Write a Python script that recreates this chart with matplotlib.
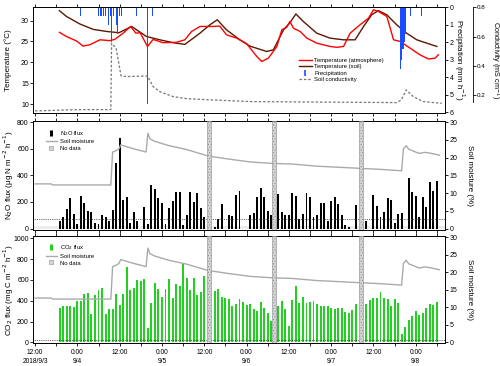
import numpy as np
import matplotlib
matplotlib.use('Agg')
import matplotlib.pyplot as plt
from matplotlib.lines import Line2D

# hours counted from 2018/9/3 0:00
tick_hours = [12, 24, 36, 48, 60, 72, 84, 96, 108, 120]
tick_labels = ['12:00\n2018/9/3', '0:00\n9/4', '12:00', '0:00\n9/5', '12:00',
               '0:00\n9/6', '12:00', '0:00\n9/7', '12:00', '0:00\n9/8']

# air / soil temperature (deg C)
t_air = [18.9, 20.9, 23.8, 25.6, 27.5, 30.4, 33.2, 34.6, 37.0, 39.1, 40.6, 41.8, 43.9, 45.5,
         48.3, 52.1, 54.5, 56.4, 58.8, 62.5, 64.4, 66.3, 69.2, 72.0, 74.9, 76.3, 78.2, 80.6,
         82.0, 83.4, 84.3, 85.3, 87.2, 89.1, 91.9, 93.8, 95.7, 97.6, 99.5, 101.4, 104.2, 106.6,
         108.0, 109.4, 111.8, 113.7, 115.6, 118.4, 121.2, 123.6, 125.5, 126.4]
temp_air = [27.2, 26.2, 25.1, 23.9, 24.2, 25.4, 25.2, 25.5, 27.0, 28.6, 27.0, 27.1, 23.8, 25.5,
            24.7, 24.8, 25.4, 27.4, 28.6, 28.6, 28.7, 26.6, 25.8, 24.5, 21.4, 20.2, 21.0, 23.8,
            27.8, 28.4, 29.8, 28.2, 27.4, 25.8, 24.6, 24.2, 23.8, 23.6, 23.8, 27.0, 29.0, 30.6,
            32.6, 32.2, 31.0, 25.4, 25.0, 23.4, 21.8, 20.8, 21.0, 21.8]
t_soil = [18.9, 20.9, 24.7, 28.5, 32.3, 35.8, 39.4, 43.6, 47.4, 51.2, 54.5, 58.8, 61.6, 63.7,
          66.3, 70.1, 72.9, 77.7, 79.6, 82.5, 84.3, 86.0, 88.1, 91.9, 95.7, 99.5, 102.8, 105.2,
          107.5, 109.4, 111.8, 114.6, 117.4, 120.3, 123.1, 126.0]
temp_soil = [32.4, 31.0, 29.2, 27.9, 27.4, 27.1, 28.6, 26.2, 25.4, 24.7, 24.3, 27.0, 29.0, 30.2,
             27.8, 25.4, 23.9, 22.6, 23.0, 27.8, 29.5, 31.6, 29.8, 27.0, 25.8, 25.4, 25.4, 28.6,
             31.4, 32.4, 31.4, 29.0, 27.0, 25.4, 24.6, 23.8]

# precipitation (mm/h)
t_rain = [25.0, 30.0, 30.7, 31.4, 32.1, 32.8, 33.3, 33.8, 34.2, 35.0, 35.4, 35.9, 36.4, 40.8,
          44.0, 45.4, 115.6, 115.8, 116.0, 116.2, 116.4, 116.6, 116.8, 117.0, 118.6, 121.7]
rain = [0.5, 0.5, 0.5, 0.5, 0.5, 1.0, 0.5, 2.0, 0.5, 1.0, 1.5, 0.5, 0.5, 0.5,
        5.5, 0.5, 3.5, 1.5, 3.0, 2.4, 2.4, 1.5, 2.0, 1.5, 0.5, 0.5]

# soil conductivity (mS/cm)
t_cond = [12.0, 24.4, 33.5, 33.7, 35.0, 36.4, 38.0, 43.9, 45.5, 47.4, 51.2, 55.0, 62.5, 73.0,
          114.6, 115.9, 117.3, 119.3, 122.1, 127.4]
cond = [0.091, 0.10, 0.10, 0.553, 0.52, 0.33, 0.326, 0.33, 0.257, 0.223, 0.189, 0.175, 0.166,
        0.155, 0.148, 0.166, 0.235, 0.189, 0.155, 0.143]

# soil moisture (%)
t_moist = [12.0, 16.5, 17.0, 33.5, 34.0, 35.0, 35.8, 36.3, 37.0, 40.0, 43.5, 44.0, 44.6, 46.0,
           50.0, 55.0, 61.0, 67.0, 73.0, 79.0, 85.0, 92.0, 98.0, 104.0, 110.0, 116.0, 116.5,
           117.3, 118.0, 119.5, 121.0, 122.5, 124.0, 126.7]
moist = [12.6, 12.6, 12.3, 12.3, 21.6, 22.0, 22.5, 23.6, 23.4, 22.5, 21.6, 26.9, 25.3, 24.6,
         23.4, 22.3, 20.5, 19.6, 18.8, 18.4, 18.2, 17.6, 17.3, 17.0, 16.7, 16.3, 22.5,
         23.4, 22.4, 21.8, 21.2, 21.5, 21.3, 20.7]

# hourly fluxes, 9/3 19:00 ... 9/8 6:00
flux_hours = np.arange(19, 127)
nan = np.nan
n2o = [58, 83, 148, 226, 113, 33, 246, 194, 131, 121,
       38, 35, 100, 90, 60, 140, 490, 680, 215, 240,
       45, 125, 60, 0, 165, 35, 330, 297, 230, 190,
       35, 155, 209, 272, 276, 28, 104, 272, 200, 265,
       154, 85, nan, nan, 12, 70, 185, 0, 104, 96,
       251, 286, 0, 0, 105, 115, 240, 305, 235, 130,
       98, nan, 261, 123, 104, 99, 267, 245, 75, 107,
       267, 240, 85, 101, 195, 195, 59, 205, 235, 187,
       104, 27, 8, 0, 176, nan, nan, 53, 0, 256,
       173, 88, 125, 227, 213, 45, 107, 117, 0, 381,
       272, 248, 88, 237, 163, 352, 283, 360]
co2 = [333, 352, 352, 348, 342, 400, 398, 463, 473, 272,
       458, 505, 527, 271, 322, 322, 463, 358, 468, 728,
       502, 525, 598, 592, 613, 135, 380, 575, 513, 438,
       513, 608, 424, 557, 545, 755, 614, 506, 620, 457,
       482, 634, nan, nan, 494, 515, 439, 426, 421, 354,
       370, 416, 387, 355, 368, 320, 304, 386, 333, 285,
       205, nan, 345, 395, 318, 158, 406, 540, 382, 434,
       378, 383, 400, 372, 346, 353, 350, 333, 324, 330,
       327, 288, 285, 311, 372, nan, nan, 366, 405, 425,
       430, 482, 427, 414, 354, 416, 376, 80, 147, 217,
       253, 300, 267, 280, 327, 373, 360, 387]

# gaps with no data (hours)
nodata_start = [60.7, 79.3, 104.0]
nodata_end = [61.9, 80.3, 105.0]

n2o_limit = 70
co2_limit = 18

plt.rcParams['font.family'] = ['Liberation Sans', 'DejaVu Sans']
plt.rcParams['font.size'] = 5
plt.rcParams['axes.linewidth'] = 0.6
plt.rcParams['hatch.linewidth'] = 0.4
plt.rcParams['xtick.major.width'] = 0.6
plt.rcParams['ytick.major.width'] = 0.6
plt.rcParams['xtick.minor.width'] = 0.6
plt.rcParams['xtick.major.size'] = 2.2
plt.rcParams['xtick.minor.size'] = 2.2
plt.rcParams['ytick.major.size'] = 2.2
plt.rcParams['xtick.major.pad'] = 1.5
plt.rcParams['ytick.major.pad'] = 1.0

fig = plt.figure(figsize=(5, 3.66), dpi=100)
left, width = 0.0666, 0.8234
ax1 = fig.add_axes([left, 0.6913, width, 0.2888])
ax2 = fig.add_axes([left, 0.3716, width, 0.2978])
ax3 = fig.add_axes([left, 0.0615, width, 0.2937])

xlim = (11.5, 128.3)
label_fs = 5.8
left_label_x = -0.0607


def style_time_axis(ax, labels):
    ax.set_xlim(*xlim)
    ax.set_xticks(tick_hours)
    ax.set_xticks(np.arange(18, 128, 12), minor=True)
    ax.tick_params(axis='x', which='both', top=True, bottom=True, direction='out')
    if labels:
        ax.set_xticklabels(tick_labels, fontsize=4.8, linespacing=1.5)
    else:
        ax.set_xticklabels([])


def right_label(ax, text, xpos, fs=label_fs):
    ax.set_ylabel(text, fontsize=fs, rotation=270, va='center', ha='center',
                  rotation_mode='default')
    ax.yaxis.set_label_coords(xpos, 0.5)


# ---- top panel: temperature, precipitation, conductivity
ax1.plot(t_soil, temp_soil, color='#5a1800', lw=1.0)
ax1.plot(t_air, temp_air, color='#ff0000', lw=1.0)
ax1.set_ylim(7.85, 33.2)
ax1.set_yticks([10, 15, 20, 25, 30])
ax1.set_ylabel('Temperature (°C)', fontsize=label_fs, va='center', rotation_mode='default')
ax1.yaxis.set_label_coords(left_label_x, 0.5)
style_time_axis(ax1, False)

ax1r = ax1.twinx()
ax1r.bar(t_rain, rain, width=0.3, color='#1a4dff', linewidth=0)
ax1r.set_ylim(6.03, 0)
ax1r.set_yticks([0, 1, 2, 3, 4, 5, 6])
right_label(ax1r, 'Precipitation (mm h$^{-1}$)', 1.0343)
ax1r.set_xlim(*xlim)

ax1c = ax1.twinx()
ax1c.plot(t_cond, cond, color='#777777', lw=0.9, linestyle=(0, (2, 1.5)))
ax1c.set_ylim(0.077, 0.8)
ax1c.spines['right'].set_position(('outward', 20))
ax1c.spines['right'].set_bounds(0.15, 0.8)
for side in ['top', 'bottom', 'left']:
    ax1c.spines[side].set_visible(False)
ax1c.set_yticks([0.2, 0.4, 0.6, 0.8])
ax1c.tick_params(axis='y', labelsize=4.5, pad=0.8)
right_label(ax1c, 'Conductivity (mS cm$^{-1}$)', 1.1195, fs=5.2)
ax1c.set_xlim(*xlim)

top_handles = [
    Line2D([], [], color='#ff0000', lw=1.0),
    Line2D([], [], color='#5a1800', lw=1.0),
    Line2D([], [], color='#1a4dff', marker='|', ms=4, mew=1.2, linestyle='none'),
    Line2D([], [], color='#777777', lw=0.9, linestyle=(0, (2, 1.5))),
]
top_labels = ['Temperature (atmosphere)', 'Temperature (soil)', 'Precipitation', 'Soil conductivity']
ax1c.legend(top_handles, top_labels, loc='upper left', bbox_to_anchor=(0.645, 0.52),
            frameon=False, fontsize=4.2, handlelength=2.2, handletextpad=0.4,
            labelspacing=0.2, borderpad=0, borderaxespad=0)


def flux_panel(ax, values, limit, color, ymax, ylabel, flux_label):
    ax.bar(flux_hours, values, width=0.55, color=color, linewidth=0, zorder=2)
    ax.axhline(limit, color='#333333', lw=0.6, linestyle=(0, (1, 1.2)), zorder=3)
    ax.set_ylim(-ymax * 0.014, ymax * 1.012)
    ax.set_ylabel(ylabel, fontsize=label_fs, va='center', rotation_mode='default')
    ax.yaxis.set_label_coords(left_label_x, 0.5)
    style_time_axis(ax, False)

    axr = ax.twinx()
    axr.plot(t_moist, moist, color='#aaaaaa', lw=1.0)
    for start, end in zip(nodata_start, nodata_end):
        axr.axvspan(start, end, facecolor='#d4d4d4', edgecolor='#8c8c8c', hatch='......',
                    lw=0.4, zorder=4)
    axr.set_ylim(-30 * 0.014, 30 * 1.012)
    axr.set_yticks([0, 5, 10, 15, 20, 25, 30])
    right_label(axr, 'Soil moisture (%)', 1.0607)
    axr.set_xlim(*xlim)

    handles = [
        Line2D([], [], color=color, marker='|', ms=4, mew=2.2, linestyle='none'),
        Line2D([], [], color='#aaaaaa', lw=1.0),
        Line2D([], [], marker='s', ms=3.2, mfc='#d4d4d4', mec='#8c8c8c', mew=0.4,
               linestyle='none'),
    ]
    axr.legend(handles, [flux_label, 'Soil moisture', 'No data'], loc='upper left',
               bbox_to_anchor=(0.03, 0.93), frameon=False, fontsize=4.2, handlelength=2.0,
               handletextpad=0.4, labelspacing=0.25, borderpad=0, borderaxespad=0)
    return axr


# ---- middle panel: N2O
ax2.axhspan(0, 22, color='#ececec', lw=0, zorder=1)
flux_panel(ax2, n2o, n2o_limit, '#000000', 800,
           'N$_2$O flux (μg N m$^{-2}$ h$^{-1}$)', 'N$_2$O flux')
ax2.set_yticks([0, 200, 400, 600, 800])

# ---- bottom panel: CO2
flux_panel(ax3, co2, co2_limit, '#22d022', 1000,
           'CO$_2$ flux (mg C m$^{-2}$ h$^{-1}$)', 'CO$_2$ flux')
ax3.set_ylim(-11, 1022)
ax3.set_yticks([0, 200, 400, 600, 800, 1000])
style_time_axis(ax3, True)

fig.savefig('out.png', dpi=100)
